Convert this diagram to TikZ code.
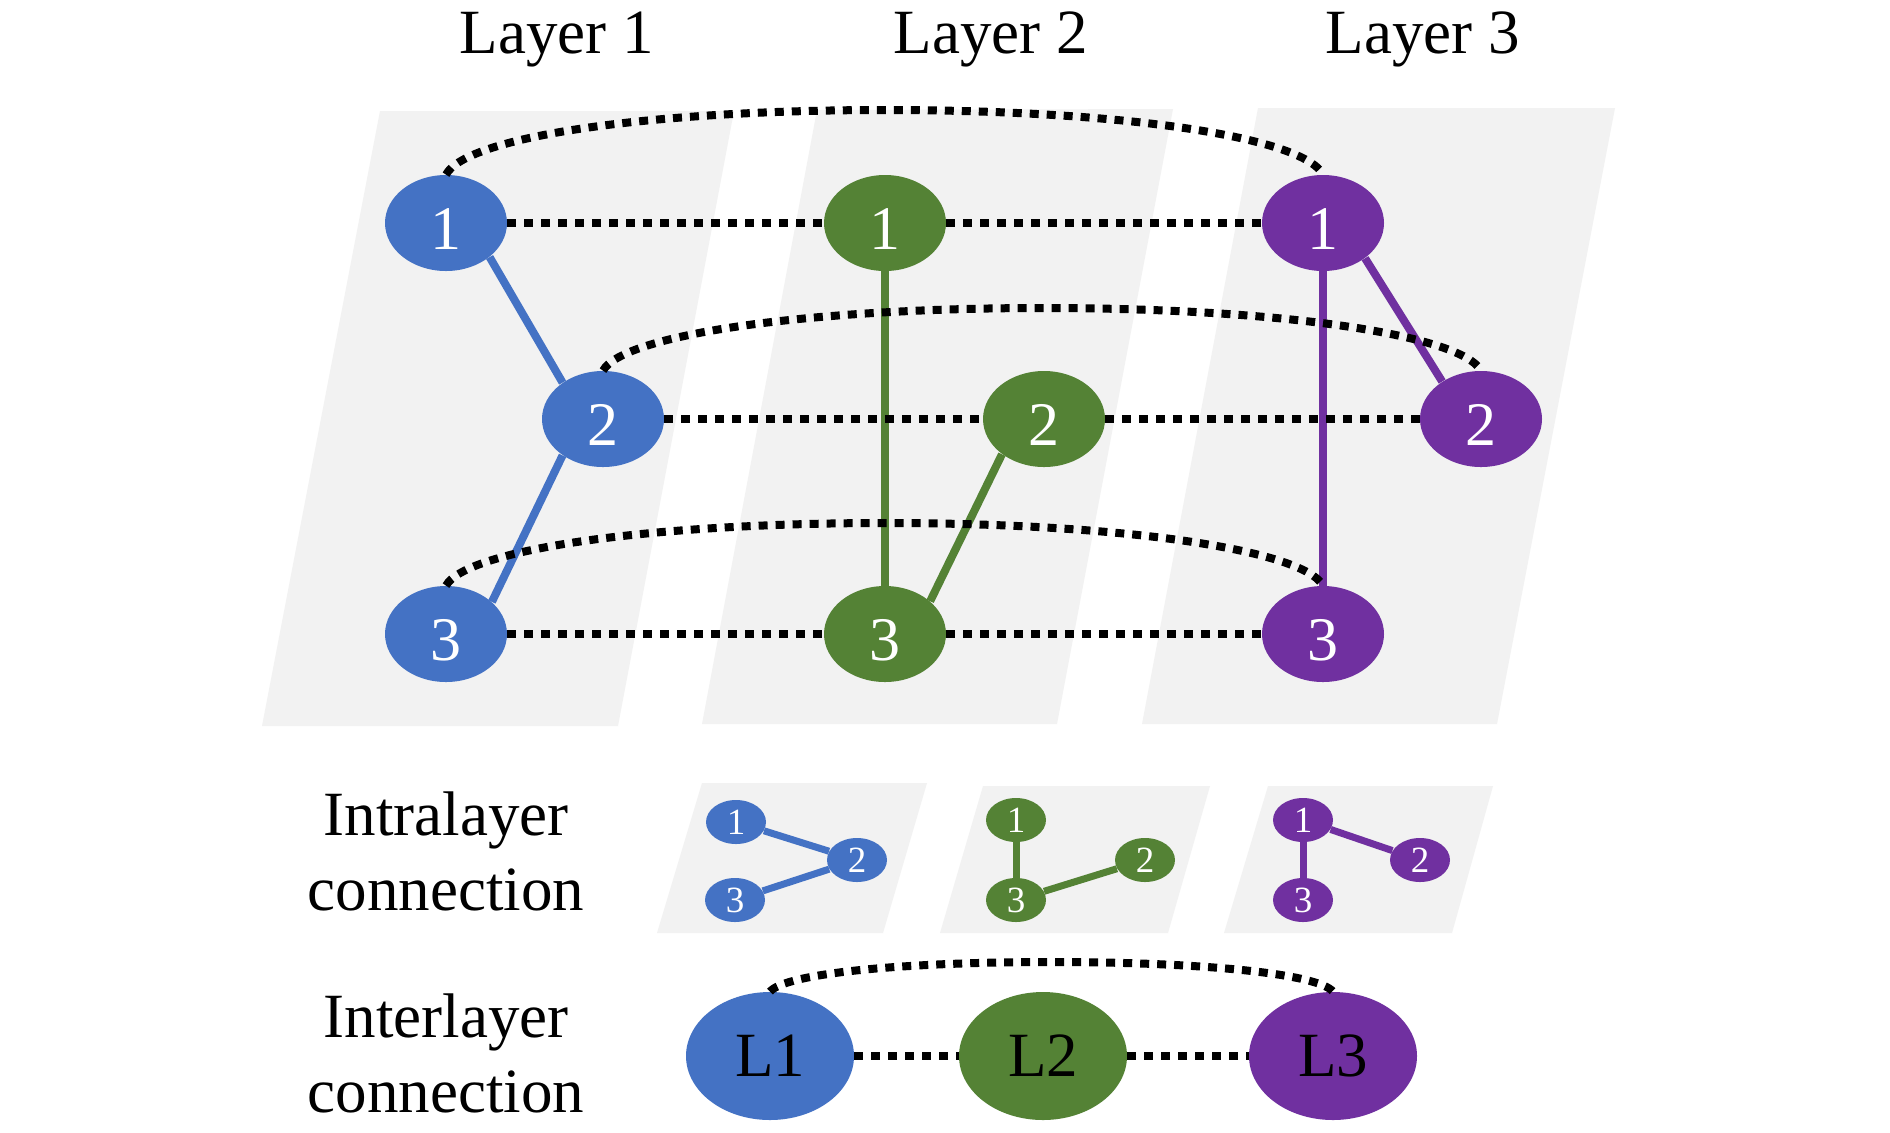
\documentclass[tikz,border=0pt]{standalone}
\usepackage{fontspec}
\setmainfont{Liberation Serif}
\usetikzlibrary{shapes.geometric}
\definecolor{nblue}{HTML}{4472C4}
\definecolor{ngreen}{HTML}{548235}
\definecolor{npurple}{HTML}{7030A0}
\definecolor{panelgray}{HTML}{F2F2F2}
\begin{document}
\begin{tikzpicture}[x=0.5pt,y=-0.5pt,
  panel/.style={fill=panelgray,draw=none},
  bignode/.style={ellipse,minimum width=61pt,minimum height=48pt,inner sep=0pt,
    text=white,font=\fontsize{31}{36}\selectfont,text height=26pt,text depth=0pt},
  smallnode/.style={ellipse,minimum width=30pt,minimum height=22pt,inner sep=0pt,
    text=white,font=\fontsize{18.5}{20}\selectfont},
  lnode/.style={ellipse,minimum width=84pt,minimum height=64pt,inner sep=0pt,
    text=black,font=\fontsize{31.5}{36}\selectfont},
  title/.style={anchor=base,font=\fontsize{31.5}{36}\selectfont},
  sidelabel/.style={align=center,inner sep=0pt,font=\fontsize{31.5}{37.5}\selectfont},
  edge/.style={line width=4pt},
  smalledge/.style={line width=3.5pt},
  dotline/.style={line width=4pt,dash pattern=on 4.5pt off 4pt}
]
\useasboundingbox (0,0) rectangle (1890,1132);
\fill[white] (0,0) rectangle (1890,1132);

% big panels
\fill[panel] (380,111) -- (734,111) -- (618,726) -- (262,726) -- cycle;
\fill[panel] (817,110) -- (1173,109) -- (1057,724) -- (702,724) -- cycle;
\fill[panel] (1258,108) -- (1615,108) -- (1497,724) -- (1142,724) -- cycle;

% small panels
\fill[panel] (702,783) -- (927,783) -- (883,933) -- (657,933) -- cycle;
\fill[panel] (983,786) -- (1210,786) -- (1168,933) -- (940,933) -- cycle;
\fill[panel] (1268,786) -- (1493,786) -- (1452,933) -- (1224,933) -- cycle;

% titles
\node[title] (t1) at (557,53) {Layer 1};
\node[title] (t2) at (991,53) {Layer 2};
\node[title] (t3) at (1423,53) {Layer 3};

% big nodes
\node[bignode,fill=nblue] (B1) at (446,223) {1};
\node[bignode,fill=nblue] (B2) at (603,419) {2};
\node[bignode,fill=nblue] (B3) at (446,634) {3};
\node[bignode,fill=ngreen] (G1) at (885,223) {1};
\node[bignode,fill=ngreen] (G2) at (1044,419) {2};
\node[bignode,fill=ngreen] (G3) at (885,634) {3};
\node[bignode,fill=npurple] (P1) at (1323,223) {1};
\node[bignode,fill=npurple] (P2) at (1481,419) {2};
\node[bignode,fill=npurple] (P3) at (1323,634) {3};

% intralayer edges (big)
\draw[edge,nblue] (B1.-38) -- (B2.138);
\draw[edge,nblue] (B2.222) -- (B3.35);
\draw[edge,ngreen] (G1.south) -- (G3.north);
\draw[edge,ngreen] (G2.220) -- (G3.36);
\draw[edge,npurple] (P1.south) -- (P3.north);
\draw[edge,npurple] (P1.-40) -- (P2.136);

% interlayer dotted lines (big)
\coordinate (a1) at (885,110);
\coordinate (a2) at (1043,308);
\coordinate (a3) at (885,523);
\draw[dotline] (B1) -- (G1) -- (P1);
\draw[dotline] (B2) -- (G2) -- (P2);
\draw[dotline] (B3) -- (G3) -- (P3);
\draw[dotline] (B1.north) .. controls +(20,-38) and +(-235,0) .. (a1)
  .. controls +(235,0) and +(-20,-38) .. (P1.north);
\draw[dotline] (B2.north) .. controls +(20,-36) and +(-235,0) .. (a2)
  .. controls +(235,0) and +(-20,-36) .. (P2.north);
\draw[dotline] (B3.north) .. controls +(20,-36) and +(-235,0) .. (a3)
  .. controls +(235,0) and +(-20,-36) .. (P3.north);

% side labels
\node[sidelabel] (intra) at (446,851) {Intralayer\\connection};
\node[sidelabel] (inter) at (446,1053) {Interlayer\\connection};

% small nodes
\node[smallnode,fill=nblue] (sb1) at (736,822) {1};
\node[smallnode,fill=nblue] (sb2) at (857,860) {2};
\node[smallnode,fill=nblue] (sb3) at (735,900) {3};
\node[smallnode,fill=ngreen] (sg1) at (1016,820) {1};
\node[smallnode,fill=ngreen] (sg2) at (1145,860) {2};
\node[smallnode,fill=ngreen] (sg3) at (1016,900) {3};
\node[smallnode,fill=npurple] (sp1) at (1303,820) {1};
\node[smallnode,fill=npurple] (sp2) at (1420,860) {2};
\node[smallnode,fill=npurple] (sp3) at (1303,900) {3};

\draw[smalledge,nblue] (sb1) -- (sb2);
\draw[smalledge,nblue] (sb2) -- (sb3);
\draw[smalledge,ngreen] (sg1) -- (sg3);
\draw[smalledge,ngreen] (sg3) -- (sg2);
\draw[smalledge,npurple] (sp1) -- (sp3);
\draw[smalledge,npurple] (sp1) -- (sp2);

% interlayer nodes
\node[lnode,fill=nblue] (L1) at (770,1056) {L1};
\node[lnode,fill=ngreen] (L2) at (1043,1056) {L2};
\node[lnode,fill=npurple] (L3) at (1333,1056) {L3};
\coordinate (aL) at (1051,962);
\draw[dotline] (L1) -- (L2) -- (L3);
\draw[dotline] (L1.north) .. controls +(15,-18) and +(-150,0) .. (aL)
  .. controls +(150,0) and +(-15,-18) .. (L3.north);
\end{tikzpicture}
\end{document}
